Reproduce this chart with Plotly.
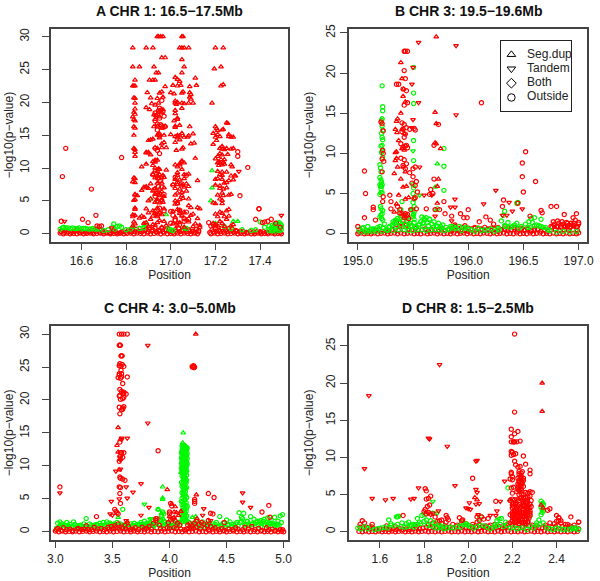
import plotly.graph_objects as go

RED = "#FF0000"
GREEN = "#00F800"

# ---------- Panel A ----------
A_up_r_x = [16.94,16.945,16.955,16.965,17.05,17.055,
16.83,16.89,16.92,17.04,17.05,17.06,17.08,17.2,17.235,
16.96,16.975,17.05,16.83,16.86,16.925,17.06,17.195,17.225,16.935,16.945,17.05,
16.84,16.905,16.92,16.93,17.02,17.03,17.04,17.11,
16.83,16.835,16.84,16.975,17.01,17.03,17.045,17.085,17.115,17.225,17.235,
16.895,16.95,16.96,17.0,17.015,17.05,17.055,17.085,17.09,
16.835,16.84,16.91,16.94,16.965,17.02,17.03,17.085,17.09,
16.84,16.915,16.93,16.945,17.02,17.025,17.05,17.06,17.08,17.1,17.185,
16.84,16.89,16.905,16.95,16.965,17.02,17.05,17.03,
16.835,16.84,16.925,16.935,16.96,17.02,17.03,
16.83,16.835,16.84,16.93,16.95,17.015,17.04,17.02,
16.835,16.84,16.925,16.94,16.96,16.975,17.02,17.085,17.2,17.205,
16.95,17.25,17.255,
16.835,16.94,16.95,16.97,17.0,17.03,17.05,17.08,17.1,17.19,17.21,17.23,17.26,
17.02,17.03,17.04,17.06,17.075,17.2,17.21,17.22,17.235,17.26,17.27,17.28,
16.9,16.91,16.92,16.96,16.97,17.02,17.04,17.09,17.105,17.19,17.205,17.23,17.25,
16.835,16.84,16.89,16.9,16.93,16.94,16.96,16.98,17.025,17.05,17.055,17.22,17.23,17.24,17.27,17.28,
16.84,16.89,16.9,16.91,16.93,17.05,17.21,17.22,17.23,17.24,17.255,
16.84,16.92,16.93,16.94,17.04,17.05,17.11,17.2,17.21,17.215,17.225,17.235,
16.87,16.92,16.93,16.945,17.02,17.03,17.04,17.06,17.215,17.22,17.23,17.24,17.27,
16.89,16.93,16.94,16.95,16.98,17.03,17.05,17.21,17.23,17.25,17.275,
16.92,16.94,16.95,16.965,17.03,17.06,17.08,17.22,17.23,17.27,17.285,17.29,
16.835,16.84,16.93,16.945,16.96,16.97,17.02,17.04,17.06,17.12,17.2,17.21,17.23,17.26,17.28,
16.83,16.84,16.89,16.91,16.94,16.96,17.01,17.03,17.05,17.07,17.2,17.22,17.24,17.25,
16.88,16.89,16.9,16.93,16.95,16.97,17.02,17.04,17.06,17.08,17.22,17.235,17.25,
16.84,16.87,16.92,16.94,16.96,17.03,17.05,17.07,17.23,
16.84,16.85,16.93,16.95,16.97,17.02,17.05,17.08,17.21,17.235,17.26,17.27,
16.835,16.84,16.91,16.94,16.96,17.02,17.04,17.055,17.19,17.22,17.23,
16.84,16.9,16.93,16.95,16.965,17.02,17.03,17.08,17.2,17.23,
16.84,16.89,16.92,16.94,16.97,17.03,17.04,17.09,17.12,17.13,17.22,17.26,
16.83,16.84,16.87,16.9,16.93,16.95,17.01,17.04,17.06,17.1,17.2,17.23,17.25,
16.83,16.86,16.88,16.92,16.94,16.96,17.02,17.05,17.09,17.21,17.24,17.26,
16.835,16.89,16.91,16.95,16.97,17.03,17.07,17.12,17.19,17.22,17.25,
16.84,16.88,16.92,16.94,16.98,17.01,17.04,17.08,17.11,17.13,17.2,17.23,17.28,
16.83,16.9,16.93,16.96,17.03,17.06,17.1,17.13,17.21,17.24,17.27]
A_up_r_y = [30,30,30,30,30,30,
28.3,28.3,28.3,28.3,28.3,28.3,28.3,28.3,28.3,
26.8,26.8,26.5,25.4,25.4,25.4,25.4,25.1,25.4,24.5,24.5,24.5,
23.4,23.4,23.4,23.4,23.8,23.5,23.2,23.7,
22.5,22.5,22.5,22.4,22.6,22.5,22.6,22.4,22.6,22.5,22.7,
21.5,21.4,21.6,21.5,21.3,21.4,21.6,21.5,21.2,
20.7,20.6,20.7,20.6,20.8,20.2,20.0,20.8,20.5,
19.9,19.8,19.6,19.9,19.9,19.7,19.9,19.8,19.9,19.9,19.9,
19.0,19.2,18.9,18.7,18.9,18.8,19.1,17.6,
18.5,18.2,18.1,18.0,18.4,18.3,17.4,
17.8,17.4,17.2,17.4,17.8,17.2,16.5,16.4,
16.3,16.1,16.3,16.4,16.1,16.4,16.2,16.3,16.3,16.0,
14.6,16.9,16.8,
15.0,15.0,15.2,15.0,15.1,15.0,15.3,14.9,15.2,15.3,15.7,15.8,15.1,
14.8,14.6,14.9,14.7,14.7,14.7,15.1,14.8,15.9,14.8,14.7,14.7,
14.2,14.3,14.4,13.7,13.9,13.9,14.3,13.7,13.8,13.6,14.2,13.3,13.0,
13.0,12.8,12.4,12.4,13.1,13.0,13.1,13.1,12.7,12.9,13.1,13.0,12.9,12.8,12.9,13.0,
12.4,12.3,12.3,12.0,11.2,11.1,11.8,12.2,12.0,11.3,12.1,
11.8,11.0,10.9,11.2,10.7,11.0,11.5,11.4,10.8,10.9,11.3,10.9,
10.2,10.4,10.0,9.9,10.5,10.2,10.5,10.8,10.4,10.7,10.5,10.6,10.5,
10.6,9.6,9.5,9.8,9.7,9.3,9.8,9.5,9.4,9.4,10.2,
9.0,8.9,9.0,8.9,8.9,9.0,9.1,9.0,8.9,8.8,8.8,8.8,
8.5,8.4,8.5,8.4,8.5,8.6,8.3,8.2,8.4,8.1,8.3,8.4,8.3,8.1,8.2,
7.9,7.8,7.2,7.6,7.7,7.7,7.5,7.5,7.4,7.6,7.4,7.3,7.7,7.8,
7.1,7.0,6.9,6.9,6.8,7.0,6.9,6.8,7.1,7.2,6.9,6.8,7.0,
6.0,6.6,6.5,6.3,6.4,6.2,6.3,6.5,6.2,
5.9,5.8,6.0,5.8,5.7,5.9,5.8,5.3,5.9,5.8,5.9,6.0,
5.1,5.2,5.3,5.2,5.1,5.0,5.2,5.4,4.7,5.3,5.1,
3.9,5.0,4.8,4.7,4.8,4.5,4.6,4.3,4.6,4.6,
3.7,3.8,3.5,3.9,3.8,3.7,3.5,4.0,4.0,3.8,3.3,3.7,
2.9,2.8,2.7,3.2,3.1,3.3,3.4,3.1,3.3,3.0,3.0,3.1,3.5,
2.6,2.4,2.5,2.7,2.6,2.9,2.5,2.7,2.8,2.6,2.6,2.7,
1.8,1.7,2.2,2.0,1.9,1.7,2.1,2.3,1.6,1.9,2.2,
1.5,1.6,1.4,1.7,1.3,1.5,1.7,1.8,1.5,1.3,1.4,1.6,1.4,
1.2,1.1,1.3,1.0,1.2,1.0,1.1,1.0,1.2,1.1,1.2]
A_dn_r_x = [16.525,17.305,17.495,16.735]
A_dn_r_y = [1.9,9.5,2.8,0.9]
A_o_r_x = [16.53,16.515,16.51,16.605,16.63,16.645,16.665,16.67,16.68,16.69,16.78,
16.93,16.935,16.94,16.945,16.95,16.955,16.96,16.965,16.97,16.975,16.93,16.94,16.95,16.96,16.965,16.94,16.945,16.95,16.955,16.93,16.94,16.95,
16.92,16.925,16.93,16.94,16.945,16.95,16.955,16.96,16.97,16.94,16.95,16.96,16.93,16.94,16.95,16.97,
17.0,17.01,17.02,17.03,17.04,17.05,17.06,17.07,17.01,17.02,17.03,17.05,17.07,17.0,17.02,17.04,17.06,17.08,
17.17,17.19,17.2,17.18,17.3,17.3,17.345,17.31,17.38,17.395,17.395,17.42,17.41,17.435,17.45,17.47,17.49]
A_o_r_y = [13,8.7,1.9,2.2,1.7,6.8,2.8,1.2,1.1,1.2,11.6,
18.4,17.9,18.1,18.7,19.1,18.8,20.3,18.6,17.9,16.3,17.2,16.7,17.6,16.4,16.2,15.8,15.1,14.9,16.6,13.0,12.7,12.2,
9.0,6.7,5.7,8.5,7.2,6.1,8.1,7.1,6.0,4.9,3.9,5.1,3.4,2.9,3.1,3.5,
3.4,2.8,2.1,4.7,3.6,2.9,2.3,3.3,7.4,8.6,7.7,7.6,8.9,1.6,2.0,1.4,1.9,2.2,
1.7,1.4,1.2,1.2,12.5,11.8,10.1,5.8,2.2,3.8,3.8,1.8,1.7,1.9,2.2,1.6,1.0]
A_up_g_x = [16.91,16.98,17.185,17.185,17.18,17.2,17.28,17.3,16.89,16.88,16.83]
A_up_g_y = [5.3,2.9,9.6,7.0,5.0,1.6,1.9,1.9,1.4,1.2,1.0]
A_o_g_x = [16.505,16.515,16.52,16.53,16.54,16.55,16.56,16.57,16.58,16.59,16.6,16.61,16.62,16.63,16.64,16.65,16.66,16.67,16.68,16.7,16.72,16.74,16.745,16.75,16.76,16.77,16.78,16.8,16.82,16.86,16.88,16.99,17.0,17.01,17.06,17.07,17.24,17.27,17.32,17.36,17.38,17.4,17.42,17.44,17.45,17.455,17.46,17.465,17.47,17.475,17.48,17.485,17.49,17.495,17.45,17.46,17.47,17.48,17.49,17.495,17.44,17.455,17.47,17.485,17.495]
A_o_g_y = [0.7,0.9,1.0,0.9,0.9,0.8,0.9,0.8,0.8,0.9,0.7,0.8,0.8,0.7,0.7,0.8,0.7,0.7,0.7,0.5,0.6,1.0,1.5,0.7,1.1,1.2,1.0,0.6,0.7,0.8,0.9,0.8,0.6,0.5,0.9,0.8,1.1,0.8,0.6,0.5,0.6,1.8,1.0,1.2,0.9,1.3,1.0,1.4,1.2,1.6,1.4,1.7,1.5,1.3,0.5,0.6,0.7,0.8,0.9,1.0,0.5,0.4,0.4,0.5,0.6]
A_base_r_x = [16.505,16.52,16.535,16.55,16.565,16.58,16.595,16.61,16.625,16.64,16.655,16.67,16.685,16.7,16.715,16.73,16.745,16.76,16.775,16.79,16.805,16.82,16.835,16.85,16.865,16.88,16.895,16.91,16.925,16.94,16.955,16.97,16.985,17.0,17.015,17.03,17.045,17.06,17.075,17.09,17.105,17.12,17.18,17.195,17.21,17.225,17.24,17.255,17.27,17.285,17.3,17.315,17.33,17.345,17.36,17.375,17.39,17.405,17.42,17.435,17.45,17.465,17.48,17.495,
16.51,16.53,16.56,16.58,16.6,16.63,16.65,16.67,16.7,16.73,16.75,16.78,16.81,16.83,16.845,16.86,16.875,16.89,16.905,16.92,16.93,16.945,16.96,16.975,16.99,17.005,17.02,17.035,17.05,17.065,17.08,17.1,17.115,17.125,17.185,17.2,17.215,17.23,17.245,17.26,17.275,17.29,17.31,17.34,17.37,17.4,17.43,17.46,17.49,
16.51,16.525,16.54,16.555,16.57,16.59,16.605,16.62,16.635,16.65,16.665,16.68,16.695,16.71,16.725,16.74,16.755,16.77,16.785,16.8,16.815,16.825,16.84,16.855,16.87,16.885,16.9,16.915,16.935,16.95,16.965,16.98,16.995,17.01,17.025,17.04,17.055,17.07,17.085,17.095,17.11,17.125,17.175,17.19,17.205,17.22,17.235,17.25,17.265,17.28,17.295,17.31,17.325,17.34,17.355,17.37,17.385,17.4,17.415,17.43,17.445,17.46,17.475,17.49]
A_base_r_y = [0.1,0,0.1,0,0.05,0,0.1,0,0.05,0.1,0,0.05,0.1,0,0.1,0,0.05,0,0.1,0,0.05,0.1,0,0.1,0.05,0,0.1,0,0.05,0.1,0,0.1,0,0.05,0,0.1,0,0.1,0.05,0,0.1,0,0,0.1,0,0.05,0.1,0,0.05,0.1,0,0.05,0,0.1,0,0,0.1,0,0.05,0,0.1,0,0.05,0,
0.4,0.5,0.3,0.6,0.4,0.3,0.5,0.7,0.3,0.2,0.4,0.3,0.5,0.6,0.7,0.8,0.5,0.7,0.9,0.6,0.8,0.5,0.9,0.6,0.7,0.4,0.6,0.8,0.5,0.7,0.6,0.4,0.7,0.5,0.6,0.8,0.5,0.9,0.6,0.8,0.7,0.5,0.4,0.2,0.3,0.3,0.2,0.3,0.2,
0.3,0.2,0.3,0.2,0.4,0.2,0.3,0.2,0.3,0.2,0.4,0.2,0.3,0.2,0.1,0.3,0.2,0.1,0.3,0.2,0.4,0.3,0.3,0.4,0.3,0.5,0.3,0.4,0.3,0.4,0.3,0.5,0.3,0.2,0.4,0.3,0.4,0.3,0.4,0.3,0.2,0.3,0.2,0.3,0.4,0.3,0.4,0.3,0.4,0.3,0.4,0.2,0.3,0.2,0.3,0.2,0.3,0.2,0.3,0.2,0.3,0.2,0.3,0.2]

# ---------- Panel B ----------
B_up_r_x = [195.71,195.39,195.4,195.415,195.43,195.41,195.39,195.7,195.71,195.7,195.71,195.75,195.36,195.35,195.34,195.355,195.4,195.42,195.37,195.35,195.34,195.4,195.42,195.35,195.34,195.36,195.33,195.41,195.43,195.73,195.72,195.72,195.39,195.41,195.44,195.37,195.46,195.43,195.35,195.33]
B_up_r_y = [24.5,21.3,19.3,18.0,16.4,17.1,15.0,15.1,13.7,11.3,11.2,10.6,14.3,14.0,13.0,12.6,13.0,12.5,11.6,10.2,10.1,10.6,10.4,9.4,9.1,8.3,7.5,8.3,7.7,6.8,5.9,3.8,6.8,5.8,5.9,4.8,4.5,4.3,3.7,2.7]
B_dn_r_x = [195.55,195.89,195.5,195.49,195.55,195.5,195.49,195.56,195.89,195.6,195.67,195.84,195.88,196.25,195.88,196.14,196.37,196.31,196.49,196.4,196.35,195.85,195.7]
B_dn_r_y = [23.8,23.4,20.7,18.6,16.3,14.2,13.2,8.3,14.8,4.8,4.8,3.3,3.3,5.4,4.3,3.7,3.9,2.3,3.1,2.8,2.3,1.6,2.2]
B_o_r_x = [195.06,195.07,195.06,195.0,195.14,195.14,195.16,195.29,195.3,195.3,195.21,195.22,195.23,195.225,195.23,195.22,195.235,195.22,195.23,195.225,
195.42,195.43,195.45,195.42,195.35,195.37,195.43,195.41,195.44,195.42,195.45,195.47,195.4,195.42,195.44,195.41,195.43,195.4,195.42,195.44,195.39,195.41,195.43,195.45,195.39,195.42,195.44,195.41,195.43,195.47,195.51,195.52,195.5,195.52,195.53,195.49,195.5,195.52,195.54,195.52,195.48,195.51,195.53,
195.66,195.69,195.73,195.69,195.65,195.68,195.78,195.79,195.85,195.93,195.96,195.99,196.0,196.12,196.1,196.16,196.2,196.23,196.32,196.31,196.45,196.49,196.49,196.52,196.5,196.61,196.56,196.66,196.67,196.75,196.8,196.87,196.95,196.98,195.62,195.7,195.74,195.38,195.4,195.42,195.44,195.36,195.42,195.46,195.38,195.45]
B_o_r_y = [7.8,5.0,2.0,0.9,3.3,3.0,1.7,4.8,4.0,3.1,13.9,13.7,12.8,10.4,10.0,9.3,9.0,7.7,4.6,4.0,
22.7,22.7,22.7,20.3,18.6,18.6,19.3,18.0,17.8,16.0,16.3,13.0,13.8,13.6,13.2,13.0,12.4,12.7,12.0,11.0,11.2,10.8,10.9,10.7,9.4,9.2,8.7,8.5,8.1,7.6,13.1,12.9,8.1,8.3,6.5,6.3,7.1,6.0,5.2,4.5,3.0,4.4,3.1,
5.5,6.8,13.6,11.0,4.9,5.0,4.0,2.5,2.2,2.5,2.0,2.0,3.0,16.3,1.5,2.1,1.7,1.2,4.2,3.4,3.8,8.8,7.1,10.2,5.2,6.5,2.2,2.9,2.6,3.4,3.4,2.4,2.0,2.5,3.1,3.0,3.0,3.0,2.5,2.3,2.2,3.4,2.0,1.9,2.6,2.4]
B_o_g_x = [195.22,195.225,195.225,195.22,195.215,195.22,195.225,195.215,195.22,195.225,195.22,195.21,195.22,195.215,195.225,195.2,195.205,195.21,195.2,195.21,195.215,195.2,195.205,195.21,195.22,195.2,195.21,195.22,195.215,195.205,195.21,195.225,195.22,195.21,195.2,195.215,195.225,
195.505,195.505,195.505,195.505,195.505,195.5,195.505,195.5,195.51,195.5,195.51,195.5,195.51,195.505,195.5,195.51,195.78,195.78,195.78,195.72,195.62,195.6,195.58,195.65,195.39,195.4,195.38,195.36,195.34,195.32,195.42,196.33,196.32,196.44,196.45,196.6,196.66,196.55,196.57]
B_o_g_y = [18.4,15.8,15.3,14.3,14.1,13.4,12.9,12.5,12.0,11.7,11.0,10.9,10.3,10.1,9.5,8.6,8.2,7.7,7.0,6.7,6.4,6.1,5.9,5.6,5.1,4.9,5.1,6.1,5.9,3.4,3.1,2.9,2.5,2.3,2.1,1.9,1.7,
20.7,17.5,16.2,11.6,9.1,6.1,5.7,5.0,4.3,3.9,3.4,3.0,2.7,2.4,2.1,1.8,10.6,8.4,5.4,3.1,2.0,1.9,2.1,1.8,3.0,4.0,2.5,1.9,1.7,1.5,2.3,2.8,2.3,3.8,3.9,2.0,1.8,1.5,1.9]
B_up_g_x = [195.72,195.71,195.7,195.5,195.45]
B_up_g_y = [8.7,2.9,5.8,2.4,2.0]
B_dn_g_x = [195.5,195.48,195.56]
B_dn_g_y = [10.3,3.0,4.8]
B_base_r_x = [195.0,195.03,195.06,195.09,195.12,195.15,195.18,195.21,195.24,195.27,195.3,195.33,195.36,195.39,195.42,195.45,195.48,195.51,195.54,195.57,195.6,195.63,195.66,195.69,195.72,195.75,195.78,195.81,195.84,195.87,195.9,195.93,195.96,195.99,196.02,196.05,196.08,196.11,196.14,196.17,196.2,196.23,196.26,196.29,196.32,196.35,196.38,196.41,196.44,196.47,196.5,196.53,196.56,196.59,196.62,196.65,196.68,196.71,196.74,196.77,196.8,196.83,196.86,196.89,196.92,196.95,196.98,197.0,
195.35,195.38,195.41,195.44,195.47,195.4,195.43,195.85,195.88,195.91,195.94,195.97,196.0,196.03,196.06,196.09,196.12,196.15,196.18,196.21,196.24,196.27,196.3,196.33,196.36,196.39,196.42,196.45,196.48,196.51,196.54,196.57,196.6,196.63,196.76,196.78,196.8,196.82,196.84,196.86,196.88,196.9,196.92,196.94,196.96,196.98,197.0,196.77,196.81,196.85,196.89,196.93,196.97,197.0,196.79,196.83,196.87,196.91,196.95,196.99]
B_base_r_y = [0,0.1,0,0.05,0,0.1,0,0.05,0.1,0,0.05,0.1,0,0.1,0,0.05,0.1,0,0.05,0,0.1,0,0.05,0.1,0,0.1,0,0.05,0,0.1,0,0.05,0.1,0,0.1,0,0.05,0,0.1,0.05,0,0.1,0,0.05,0.1,0,0.05,0,0.1,0,0.05,0,0.1,0,0.05,0.1,0,0.05,0,0.1,0,0.05,0,0.1,0,0.05,0,0.1,
1.4,0.9,1.7,1.1,1.3,2.2,2.5,0.7,0.9,0.6,0.8,1.0,0.7,0.6,0.8,0.7,0.6,0.8,0.5,0.7,0.6,0.8,0.5,0.9,0.7,0.5,0.8,0.6,0.7,0.5,0.6,0.4,0.6,0.5,0.8,1.2,0.9,1.3,0.8,1.2,0.9,1.3,0.8,1.1,1.3,0.9,1.2,1.5,1.6,1.5,1.4,1.3,1.7,1.4,0.5,0.4,0.5,0.4,0.5,0.4]
B_low_r_x = [195.01,195.04,195.07,195.1,195.13,195.16,195.19,195.22,195.25,195.28,195.31,195.34,195.37,195.4,195.43,195.46,195.49,195.52,195.55,195.58,195.61,195.64,195.67,195.7,195.73,195.76,195.79,195.82,195.85,195.88,195.91,195.94,195.97,196.0,196.03,196.06,196.09,196.12,196.15,196.18,196.21,196.24,196.27,196.3,196.33,196.36,196.39,196.42,196.45,196.48,196.51,196.54,196.57,196.6,196.63,196.66,196.69,196.72,196.75,196.78,196.81,196.84,196.87,196.9,196.93,196.96,196.99]
B_low_r_y = [0.2,0.3,0.2,0.3,0.2,0.4,0.5,0.3,0.4,0.3,0.5,0.7,0.4,0.9,1.2,0.6,0.5,0.7,0.4,0.5,0.6,0.3,0.5,0.4,0.3,0.6,0.4,0.5,0.3,1.1,0.4,0.3,0.4,0.3,0.5,0.7,0.6,0.5,0.4,0.6,0.4,0.6,0.3,0.5,0.6,0.4,0.5,0.6,0.3,0.5,0.4,0.6,0.3,0.4,0.6,0.3,0.5,0.3,0.9,1.0,0.9,1.1,0.9,1.0,0.9,1.0,0.9]
B_base_g_x = [195.01,195.04,195.07,195.09,195.12,195.15,195.18,195.2,195.23,195.26,195.28,195.31,195.33,195.35,195.37,195.39,195.41,195.43,195.45,195.47,195.49,195.51,195.53,195.55,195.57,195.59,195.61,195.63,195.65,195.67,195.69,195.71,195.73,195.75,195.77,195.8,195.83,195.86,195.89,195.92,195.96,196.0,196.06,196.12,196.18,196.24,196.28,196.34,196.38,196.42,196.48,196.54,196.58,196.62,196.68,196.74,196.8,196.86,196.92,196.98,
195.03,195.08,195.13,195.17,195.22,195.27,195.32,195.37,195.42,195.46,195.5,195.54,195.58,195.62,195.66,195.7,195.74,195.78,195.82,195.94,196.3,196.36,196.44,196.52,196.64,196.7,
195.05,195.1,195.14,195.19,195.24,195.29,195.34,195.38,195.44,195.48,195.52,195.56,195.6,195.64,195.68,195.72,195.76,195.84,195.88,195.98,196.03,196.09,196.15,196.21,196.27,196.33,196.4,196.46,196.56,196.6,196.66,196.72]
B_base_g_y = [0.5,0.7,0.4,0.9,0.6,0.5,0.8,0.9,0.7,0.5,0.8,1.1,1.3,0.9,1.5,1.1,1.6,1.2,1.5,1.3,1.0,1.4,0.8,1.1,1.5,1.3,1.7,1.4,1.8,1.2,1.5,1.0,1.3,0.9,1.1,0.8,0.6,0.9,0.7,0.9,0.7,0.6,0.3,0.4,0.4,0.3,0.5,0.9,0.8,1.1,0.9,0.8,1.4,1.1,0.8,0.4,0.2,0.3,0.2,0.3,
0.2,0.2,0.3,0.3,0.3,0.4,0.4,0.5,0.5,0.4,0.4,0.5,0.5,0.4,0.5,0.5,0.5,0.4,0.5,0.4,1.6,1.4,1.3,1.2,1.0,0.8,
0.8,0.4,0.6,0.6,1.2,0.9,1.6,1.8,0.8,1.0,0.9,1.2,0.9,1.0,0.8,0.9,0.7,0.9,0.6,0.8,0.5,0.7,0.5,0.6,0.7,1.0,0.9,0.7,0.8,1.0,0.9,0.5]

# ---------- Panel C ----------
C_o_r_x = [3.04,3.36,3.52,3.53,3.54,3.55,3.56,3.56,3.58,3.6,3.63,3.565,3.57,3.575,3.58,3.585,3.56,3.565,3.575,3.585,3.6,3.56,3.575,3.58,3.63,3.55,3.56,3.57,3.58,3.59,3.6,3.565,3.58,3.59,3.56,3.6,3.565,3.6,3.62,3.57,3.59,3.6,3.56,3.59,3.565,3.58,3.59,3.59,3.565,3.57,3.58,3.56,3.59,3.565,3.57,3.56,3.57,3.565,3.57,3.565,3.6,3.9,3.61,4.01,4.02,4.0,4.0,4.03,3.88,4.22,4.22,4.22,4.34,4.36,4.39,4.38,4.48,4.87,4.81,4.88,4.2,4.21,4.22,4.215,4.205,4.21,4.2,4.34]
C_o_r_y = [6.8,2.3,3.4,3.1,2.9,2.7,30,28.3,30,30,30,28.3,28.3,26.7,26.7,26.7,25.2,25.5,25.1,25.4,25.1,24,24.5,24,23.5,23.4,23.8,23.3,23.5,22.5,21.2,21.6,21.3,21,20.6,21,20.7,20.4,20.9,20.1,20.2,19,18.9,18.6,17.9,18.5,18.8,8,13.6,12,12,10.7,11.3,8.3,8.1,6.8,6.7,5.8,4.3,11.4,12,12.3,7.8,4.3,3.9,2.7,3,2,2,4.9,4.6,4.3,5.8,2.8,5.2,2.7,1.4,4,3,2.2,25,25.2,25,24.9,25.1,25,25.1,1.7]
C_dn_r_x = [3.04,3.49,3.53,3.58,3.58,3.57,3.63,3.57,3.57,3.62,3.56,3.63,3.68,3.75,3.81,3.81,3.82,3.75,4.3,4.29,4.64,4.64,4.71,4.36,3.62,3.48,3.5]
C_dn_r_y = [5.9,4.6,9.2,14.2,14.0,11.3,14.2,10.9,9.5,6.8,5.0,5.1,6,7.3,28.3,16.5,3.7,2.5,3.5,2.5,5.9,4.5,3.7,1.7,1.7,2.7,2.5]
C_up_r_x = [3.55,3.54,3.55,3.56,3.57,3.57,3.98,4.02,4.05,4.06,4.04,4.08,4.1,4.23,4.235,4.0,4.04,4.24,3.63]
C_up_r_y = [15.8,13.1,12.1,9.4,14,11,6.4,4.2,3.8,2.9,3.0,2.5,3.1,30,5.6,2.3,2.2,2,1.5]
C_g_c_x = [4.11,4.12,4.125,4.13,4.14,4.15,4.155,4.11,4.12,4.13,4.14,4.15,4.105,4.115,4.125,4.135,4.145,4.155,4.11,4.12,4.13,4.14,4.15,4.105,4.115,4.125,4.135,4.145,4.155,4.11,4.12,4.13,4.14,4.15,4.105,4.115,4.125,4.135,4.145,4.155,4.11,4.12,4.13,4.14,4.15,4.105,4.115,4.125,4.135,4.145,4.11,4.12,4.13,4.14,4.15,4.12,4.13,4.14,4.15,4.11,4.12,4.13,4.14,4.12,4.13,4.14,4.15,4.105,4.115,4.125,4.135,4.145,4.11,4.12,4.13,4.14,4.15,4.12,4.13,4.14,4.11,4.12,4.13,4.14,4.11,4.125,4.135,4.15,4.105,4.115,4.13,4.145,4.11,4.125,4.14,4.155,4.12,4.135,4.15,4.11,4.13,4.145,4.12,4.135,4.105,4.125,4.14,4.11,4.13,4.15,4.12,4.14,4.11,4.13,4.15,4.12,4.14,3.59,3.94,3.9,3.93,3.95]
C_g_c_y = [13,12.9,12.8,13.1,12.9,12.8,12.7,12.4,12.5,12.6,12.3,12.4,12,11.9,12.1,11.8,12.0,11.9,11.6,11.5,11.7,11.4,11.6,11.2,11.1,11.3,11.0,11.2,11.1,10.8,10.9,10.7,10.8,10.6,10.4,10.3,10.5,10.2,10.4,10.3,10.0,9.9,10.1,9.8,10.0,9.6,9.5,9.7,9.4,9.6,9.2,9.1,9.3,9.0,9.2,8.8,8.7,8.9,8.6,8.5,8.3,8.4,8.2,8.0,7.9,7.7,7.8,7.5,7.3,7.6,7.2,7.4,6.9,7.0,6.8,6.6,6.7,6.3,6.4,6.1,5.9,5.7,5.8,5.5,5.1,5.3,4.9,5.2,4.6,4.5,4.7,4.4,4.1,4.2,4.0,3.9,3.7,3.5,3.6,3.2,3.3,3.1,2.9,2.8,2.6,2.5,2.7,2.3,2.2,2.4,2,2.1,1.8,1.9,1.7,1.6,1.5,3.4,3.0,3.4,2.5,2.7]
C_up_g_x = [4.12,4.115,4.12,4.11,4.13,3.94,3.94,3.94,3.9,3.93,4.1,4.2,4.23,3.55]
C_up_g_y = [15,13.5,13.2,12.2,11.8,6.8,5.1,4.9,3.4,2.8,9,2.2,2.3,2.2]
C_dn_g_x = [3.78,3.83,3.84]
C_dn_g_y = [4.2,1.9,2.0]
C_base_g_x = [3.02,3.04,3.06,3.08,3.1,3.13,3.16,3.19,3.22,3.25,3.27,3.3,3.33,3.36,3.39,3.42,3.45,3.48,3.51,3.54,3.57,3.6,3.63,3.66,3.69,3.72,3.75,3.78,3.81,3.84,3.87,3.9,3.93,3.96,3.99,4.02,4.05,4.08,4.11,4.14,4.17,4.2,4.23,4.26,4.29,4.32,4.35,4.38,4.41,4.44,4.47,4.5,4.53,4.56,4.59,4.61,4.63,4.65,4.68,4.71,4.74,4.77,4.8,4.83,4.86,4.89,4.92,4.95,4.97,4.99,
3.03,3.07,3.12,3.18,3.24,3.29,3.35,3.41,3.47,3.53,3.59,3.65,3.71,3.77,3.83,3.89,3.95,4.01,4.07,4.19,4.25,4.31,4.37,4.43,4.49,4.55,4.6,4.66,4.72,4.78,4.84,4.9,4.96,
3.78,3.8,3.82,3.84,3.86,3.92,3.94,3.96,4.64,4.68,4.73,4.76,4.79,4.82,4.85,4.88,4.91,4.94,
3.05,3.09,3.11,3.15,3.21,3.26,3.31,3.37,3.43,3.49,3.55,3.62,3.68,3.74,3.79,3.85,3.91,3.97,4.03,4.09,4.21,4.27,4.33,4.39,4.45,4.51,4.57,4.62,4.67,4.75,4.81,4.87,4.93,4.98,
3.01,3.045,3.075,3.105,3.14,3.17,3.2,3.23,3.26,3.28,3.32,3.34,3.38,3.4,3.44,3.46,3.5,3.52,3.56,3.58,3.61,3.64,3.67,3.7,3.73,3.76,3.8,3.83,3.86,3.88,3.92,3.95,3.98,4.0,4.04,4.06,4.18,4.22,4.24,4.28,4.3,4.34,4.36,4.4,4.42,4.46,4.48,4.52,4.54,4.58,4.63,4.69,4.7,4.77,4.8,4.83,4.86,4.89,4.92,4.95]
C_base_g_y = [1.3,1.5,1.2,1.0,1.4,1.1,1.5,0.9,1.0,1.2,2.0,1.2,0.9,1.1,1.3,1.4,1.5,1.3,1.1,1.4,1.2,1.0,1.1,1.2,1.3,1.1,1.4,1.6,1.3,1.2,1.1,1.5,2.3,1.5,1.2,1.6,1.3,1.4,1.5,1.8,1.4,1.2,1.6,1.3,1.5,1.1,1.3,1.2,1.4,2.3,1.3,1.8,1.5,1.1,1.4,2.9,2.2,2.8,1.6,2.3,1.9,1.6,1.7,1.9,2.1,1.8,2.2,1.6,2.4,2.6,
0.7,0.6,0.7,0.5,0.7,0.5,0.6,0.8,0.6,0.8,0.6,0.7,0.8,0.7,0.9,0.6,0.9,0.8,0.9,0.8,0.7,0.6,0.7,0.8,0.6,0.7,0.9,1.0,1.1,1.0,1.1,0.9,1.0,
0.8,1.0,0.9,1.0,0.9,1.7,1.9,1.0,2.0,1.5,1.3,1.4,1.5,1.6,1.4,1.3,1.2,1.0,
1.0,0.9,1.0,0.8,0.9,0.8,0.9,1.0,1.0,1.1,1.0,0.9,1.0,1.1,1.2,1.1,1.2,1.1,1.0,1.1,1.0,0.9,1.0,0.9,1.0,1.0,0.9,1.4,1.1,1.2,1.3,1.3,1.2,1.4,
0.5,0.8,0.6,0.9,0.7,1.1,0.7,0.9,0.6,0.8,0.7,1.0,0.7,1.0,0.8,1.2,0.9,1.2,0.8,1.0,0.8,0.7,0.9,0.8,1.0,1.1,0.8,1.2,0.9,1.3,1.0,1.6,1.2,0.9,0.8,1.1,0.9,1.2,0.8,1.0,0.7,1.0,0.8,1.1,0.7,0.9,0.8,1.1,0.8,1.2,1.6,1.2,0.9,1.5,0.8,1.1,0.9,1.3,0.9,1.1]
C_base_r_x = [3.0,3.03,3.06,3.09,3.12,3.15,3.18,3.21,3.24,3.27,3.3,3.33,3.36,3.39,3.42,3.45,3.48,3.51,3.54,3.57,3.6,3.63,3.66,3.69,3.72,3.75,3.78,3.81,3.84,3.87,3.9,3.93,3.96,3.99,4.02,4.05,4.08,4.11,4.14,4.17,4.2,4.23,4.26,4.29,4.32,4.35,4.38,4.41,4.44,4.47,4.5,4.53,4.56,4.59,4.62,4.65,4.68,4.71,4.74,4.77,4.8,4.83,4.86,4.89,4.92,4.95,4.98,5.0,
3.02,3.07,3.13,3.2,3.27,3.34,3.4,3.46,3.49,3.52,3.55,3.58,3.61,3.64,3.7,3.76,3.82,3.86,3.88,3.89,3.91,3.99,4.01,4.03,4.05,4.07,4.09,4.16,4.18,4.2,4.22,4.24,4.26,4.28,4.3,4.33,4.36,4.4,4.46,4.52,4.58,4.66,4.72,4.78,4.85,4.9,4.97,
3.01,3.05,3.1,3.15,3.19,3.23,3.25,3.29,3.32,3.37,3.43,3.47,3.51,3.53,3.56,3.59,3.62,3.66,3.68,3.73,3.78,3.8,3.84,3.92,3.95,3.98,4.0,4.04,4.06,4.1,4.13,4.15,4.17,4.19,4.21,4.23,4.27,4.31,4.34,4.38,4.43,4.48,4.55,4.6,4.64,4.69,4.75,4.81,4.87,4.93,4.99]
C_base_r_y = [0.1,0,0.1,0,0.05,0,0.1,0,0.05,0.1,0,0.05,0.1,0,0.05,0,0.1,0,0.05,0.1,0,0.05,0,0.1,0,0.05,0,0.1,0,0.05,0,0.1,0,0.05,0.1,0,0.05,0,0.1,0,0.05,0.1,0,0.05,0,0.1,0,0.05,0,0.1,0,0.05,0.1,0,0.05,0,0.1,0,0.05,0,0.1,0,0.05,0,0.1,0,0.05,0,
0.5,0.6,0.4,0.5,0.9,0.7,0.5,0.7,0.8,0.9,1.2,0.7,1.0,0.8,0.6,0.7,0.8,1.3,1.7,2.0,1.0,1.4,1.8,2.0,1.6,1.3,1.0,1.0,1.2,0.9,1.3,1.6,1.1,1.4,1.2,0.9,0.8,0.6,0.5,0.4,0.6,0.7,0.8,0.5,0.6,0.4,0.3,
0.3,0.2,0.3,0.2,0.4,0.3,0.4,0.3,0.3,0.4,0.3,0.4,0.5,0.6,0.4,0.5,0.4,0.3,0.4,0.3,0.4,0.5,0.4,0.5,0.4,0.6,0.5,0.6,0.5,0.4,0.3,0.4,0.5,0.6,0.5,0.7,0.4,0.5,0.3,0.4,0.3,0.2,0.3,0.4,0.3,0.4,0.3,0.2,0.3,0.2,0.3]

# ---------- Panel D ----------
D_dn_r_x = [1.53,1.55,1.565,1.625,1.66,1.74,1.755,1.775,1.82,1.825,1.84,1.865,1.87,1.905,1.94,2.035,2.04,2.035,2.04,2.05,2.035,2.005,2.01,1.99,2.0,2.045,2.1,2.145,2.13,2.165,2.125,1.82,1.83]
D_dn_r_y = [8.5,18.3,4.5,4.3,4.5,4.4,4.5,5.9,12.6,12.5,2.5,2.8,22.5,11.5,6.2,9.5,9.6,5.7,5.3,3.8,3.7,3.9,3.0,3.2,3.1,2.3,2.2,4.1,2.8,6.8,2.2,2.5,2.3]
D_up_r_x = [2.335,2.335,2.03,2.04,2.33,2.34,2.19]
D_up_r_y = [20,16.2,4.6,4.3,3.6,3.2,4.3]
D_o_r_x = [1.565,1.705,1.805,1.81,1.815,1.805,1.81,1.82,1.825,1.83,1.8,1.81,1.82,1.85,1.87,1.88,1.9,1.905,1.96,1.97,1.975,2.02,2.04,2.05,2.06,2.07,2.09,2.125,
2.21,2.21,2.195,2.21,2.225,2.195,2.205,2.195,2.205,2.21,2.22,2.235,2.195,2.2,2.205,2.215,2.25,2.21,2.195,2.215,2.225,2.26,2.235,2.195,2.23,2.245,2.28,2.195,2.2,2.23,2.24,2.28,2.19,2.2,2.225,2.24,2.25,2.23,2.24,2.25,2.195,2.205,2.23,2.24,2.25,2.23,2.24,2.2,2.22,2.23,2.24,2.23,2.24,2.25,2.2,2.26,2.27,2.28,2.29,2.19,2.21,2.23,2.25,2.26,2.27,2.28,2.205,2.215,2.25,2.26,2.27,2.285,2.2,2.22,2.25,2.265,2.28,2.21,2.23,2.25,2.27,2.285,2.2,2.22,2.26,2.27,2.19,2.21,2.23,2.25,2.28,2.2,2.22,2.24,2.26,2.21,2.23,2.25,2.27,2.2,2.22,2.26,2.28,2.21,2.24,2.26,2.19,2.23,2.25,2.27,2.465,2.36,2.37,2.4,2.41,2.41,2.5,2.42,2.45,
2.2,2.205,2.215,2.22,2.225,2.235,2.245,2.255,2.265,2.275,2.2,2.21,2.22,2.23,2.24,2.25,2.26,2.27,2.28,2.205,2.215,2.225,2.235,2.245,2.255,2.265,2.275,2.21,2.22,2.23,2.24,2.25,2.26,2.27,2.225,2.235,2.245,2.255,2.265,2.235,2.225,2.24,2.23,2.245,2.235,2.24,2.23,2.225]
D_o_r_y = [1,2.2,5.8,5.5,3.4,3.0,4.4,4.5,3.6,4.8,2.7,2.4,2.6,2.0,1.5,1.6,2.2,1.9,1.9,1.5,1.6,7.2,2.0,1.5,2.0,1.7,1.8,4.1,
26.6,16.1,13.8,13.2,13.5,12.8,12.1,12.1,12.1,12.1,12.1,12.2,10.8,10.7,10.4,10.5,10.2,9.5,10.3,9.0,8.7,9.1,8.8,8.0,8.1,8.1,8.3,7.8,7.4,7.8,7.9,7.8,7.1,7.0,7.2,7.2,7.2,6.7,6.8,6.9,5.9,6.0,6.3,6.2,6.1,5.9,5.8,5.2,5.4,5.5,5.6,5.0,5.1,5.0,4.4,5.3,5.2,5.4,5.3,4.2,4.3,4.2,4.6,4.6,4.7,4.8,3.8,3.9,3.9,4.0,4.0,4.2,3.2,3.3,3.5,3.4,3.7,2.9,3.0,3.1,3.0,3.4,2.6,2.7,2.8,2.9,2.3,2.4,2.5,2.6,2.8,2.0,2.1,2.2,2.3,1.8,1.9,2.0,2.1,1.5,1.6,1.7,2.2,1.4,1.3,1.6,1.2,1.1,1.3,1.4,2.0,2.9,3.1,2.2,1.9,1.5,1.3,1.2,1.0,
3.6,3.4,3.7,3.1,3.5,3.2,3.6,3.5,3.1,3.3,2.4,2.7,2.5,2.8,2.6,2.9,2.4,2.6,2.5,1.8,1.9,1.7,2.0,1.6,2.1,1.7,1.8,1.2,1.3,1.4,1.3,1.2,1.1,1.3,4.4,4.5,4.3,4.2,4.1,6.2,6.4,6.5,6.9,6.6,7.4,7.5,5.6,5.8]
D_g_x = [1.64,1.675,1.68,1.685,1.73,1.76,1.77,1.79,1.8,1.83,1.84,2.18,2.33,2.335,2.34,2.33,2.335,2.34,2.335,2.33,2.32,2.31,2.28,1.65,1.7,1.72,1.74,1.75,1.78,1.81,1.85,1.87,1.89,1.97,1.98,1.99,2.0,2.05,2.06,2.15,2.14,2.13,2.17,2.12]
D_g_y = [1.6,2.0,2.0,2.1,1.3,1.0,1.8,2.2,2.3,1.5,2.5,5.9,4.1,3.8,3.6,3.3,3.0,2.8,2.6,2.3,1.6,1.2,2.1,1.1,1.2,1.1,0.8,1.0,1.3,1.6,1.2,0.9,0.7,1.2,1.0,1.1,0.9,1.7,2.0,1.8,1.7,1.5,1.3,0.9]
D_dn_g_x = [1.84,1.86]
D_dn_g_y = [4.1,2.5]
D_up_g_x = [2.19,2.34]
D_up_g_y = [4.3,3.9]
D_base_g_x = [1.5,1.515,1.53,1.545,1.56,1.575,1.59,1.605,1.62,1.635,1.65,1.665,1.68,1.695,1.71,1.725,1.74,1.755,1.77,1.785,1.8,1.815,1.83,1.845,1.86,1.875,1.89,1.905,1.92,1.935,1.95,1.965,1.98,1.995,2.01,2.025,2.04,2.055,2.07,2.085,2.1,2.115,2.13,2.145,2.16,2.175,2.19,2.205,2.22,2.235,2.25,2.265,2.28,2.295,2.31,2.325,2.34,2.355,2.37,2.385,2.4,2.415,2.43,2.445,2.46,2.47,2.48,2.49,2.5]
D_base_g_y = [0.5,0.4,0.7,0.4,0.6,0.3,0.4,0.5,0.6,0.5,0.9,0.8,1.0,0.7,0.6,0.7,0.9,0.6,1.0,1.1,1.4,0.9,0.8,0.6,0.5,0.6,0.4,0.5,0.6,0.5,0.7,0.6,1.0,0.9,0.7,0.5,0.7,0.9,0.8,0.6,0.4,0.6,0.8,1.0,0.7,0.9,0.5,0.6,0.4,0.5,0.6,0.3,0.8,0.5,0.9,1.0,1.2,0.5,0.4,0.3,0.5,0.4,0.3,0.4,0.3,0.5,0.4,0.5,0.3]
D_base_r_x = [1.505,1.52,1.535,1.55,1.565,1.58,1.595,1.61,1.625,1.64,1.655,1.67,1.685,1.7,1.715,1.73,1.745,1.76,1.775,1.79,1.805,1.82,1.835,1.85,1.865,1.88,1.895,1.91,1.925,1.94,1.955,1.97,1.985,2.0,2.015,2.03,2.045,2.06,2.075,2.09,2.105,2.12,2.135,2.15,2.165,2.18,2.195,2.21,2.225,2.24,2.255,2.27,2.285,2.3,2.315,2.33,2.345,2.36,2.375,2.39,2.405,2.42,2.435,2.45,2.465,2.48,2.495,
1.51,1.52,1.53,1.56,1.63,1.67,1.71,1.76,1.82,1.84,1.86,1.88,1.9,1.91,1.93,1.95,1.97,1.99,2.02,2.04,2.05,2.08,2.1,2.12,2.16,2.18,2.2,2.21,2.22,2.23,2.24,2.25,2.26,2.27,2.29,2.31,2.35,2.37,2.39,2.4,2.41,2.42,2.44,2.46,2.48,2.5,
1.51,1.525,1.54,1.555,1.57,1.585,1.6,1.615,1.63,1.645,1.66,1.675,1.69,1.705,1.72,1.735,1.75,1.765,1.78,1.795,1.81,1.825,1.84,1.855,1.87,1.885,1.9,1.915,1.93,1.945,1.96,1.975,1.99,2.005,2.02,2.035,2.05,2.065,2.08,2.095,2.11,2.125,2.14,2.155,2.17,2.185,2.2,2.215,2.23,2.245,2.26,2.275,2.29,2.305,2.32,2.335,2.35,2.365,2.38,2.395,2.41,2.425,2.44,2.455,2.47,2.485,2.5]
D_base_r_y = [0.05,0,0.1,0,0.05,0,0.1,0,0.05,0,0.1,0,0.05,0.1,0,0.05,0,0.1,0,0.05,0.1,0,0.05,0,0.1,0,0.05,0.1,0,0.05,0,0.1,0,0.05,0,0.1,0,0.05,0.1,0,0.05,0,0.1,0,0.05,0.1,0,0.05,0,0.1,0,0.05,0.1,0,0.05,0,0.1,0,0.05,0,0.1,0,0.05,0,0.1,0,0.05,
1.0,1.5,1.2,0.7,0.8,0.7,0.6,0.8,1.0,1.2,1.4,1.1,1.3,1.6,1.0,0.9,1.2,1.1,1.0,1.3,0.9,0.8,0.9,1.0,0.8,1.1,1.5,1.8,1.4,1.1,1.6,1.3,1.7,1.2,0.9,0.8,0.9,1.2,1.1,1.4,1.9,1.5,1.0,0.8,0.9,1.3,
0.6,0.5,0.6,0.4,0.5,0.3,0.4,0.3,0.4,0.3,0.4,0.3,0.4,0.3,0.4,0.3,0.4,0.5,0.4,0.5,0.6,0.5,0.7,0.6,0.8,0.5,0.7,0.6,0.5,0.7,0.5,0.7,0.6,0.5,0.7,0.6,0.5,0.7,0.6,0.7,0.5,0.6,0.7,0.5,0.7,0.6,0.9,0.8,0.9,0.7,0.9,0.8,0.6,0.5,0.6,0.5,0.6,0.5,0.6,0.7,0.8,0.7,0.6,0.5,0.6,0.5,0.4]

TITLES = ["A CHR 1: 16.5\u221217.5Mb", "B CHR 3: 19.5\u221219.6Mb", "C CHR 4: 3.0\u22125.0Mb", "D CHR 8: 1.5\u22122.5Mb"]
XTICKS = [[16.6,16.8,17.0,17.2,17.4],[195.0,195.5,196.0,196.5,197.0],[3.0,3.5,4.0,4.5,5.0],[1.6,1.8,2.0,2.2,2.4]]
YTICKS = [[0,5,10,15,20,25,30],[0,5,10,15,20,25],[0,5,10,15,20,25,30],[0,5,10,15,20,25]]
XRANGES = [[16.463,17.526],[194.92,197.08],[2.96,5.04],[1.46,2.54]]
YRANGES = [[-1.2,31.2],[-0.98,25.5],[-1.2,31.2],[-1.06,27.66]]
LEGEND_NAMES = ["Seg.dup","Tandem","Both","Outside"]
LEGEND_SYMBOLS = ["up","dn","di","o"]
W, H = 600, 581
DOMX = [[45.7/W,288/W],[350/W,593.3/W],[45.7/W,288/W],[350/W,593.3/W]]
DOMY = [[1-238.7/H,1-24/H],[1-238.7/H,1-24/H],[1-539.3/H,1-324/H],[1-539.3/H,1-324/H]]
TICK_STANDOFF = [8,0,8,0]
YTITLE_STANDOFF = [2,8,2,8]

SYM = {"up":"triangle-up-open","dn":"triangle-down-open","di":"diamond-open","o":"circle-open"}
fig = go.Figure()

def add(panel, x, y, sym, color):
    ax = "" if panel == 0 else str(panel+1)
    fig.add_trace(go.Scatter(x=x, y=y, mode="markers", xaxis="x"+ax, yaxis="y"+ax,
        showlegend=False, hoverinfo="skip",
        marker=dict(symbol=SYM[sym], size=4.2, color=color, line=dict(color=color, width=1.2))))

add(0, A_base_r_x, A_base_r_y, "o", RED)
add(0, A_o_g_x, A_o_g_y, "o", GREEN)
add(0, A_up_g_x, A_up_g_y, "up", GREEN)
add(0, A_o_r_x, A_o_r_y, "o", RED)
add(0, A_up_r_x, A_up_r_y, "up", RED)
add(0, A_dn_r_x, A_dn_r_y, "dn", RED)

add(1, B_base_r_x, B_base_r_y, "o", RED)
add(1, B_low_r_x, B_low_r_y, "o", RED)
add(1, B_base_g_x, B_base_g_y, "o", GREEN)
add(1, B_o_g_x, B_o_g_y, "o", GREEN)
add(1, B_up_g_x, B_up_g_y, "up", GREEN)
add(1, B_dn_g_x, B_dn_g_y, "dn", GREEN)
add(1, B_o_r_x, B_o_r_y, "o", RED)
add(1, B_up_r_x, B_up_r_y, "up", RED)
add(1, B_dn_r_x, B_dn_r_y, "dn", RED)

add(2, C_base_g_x, C_base_g_y, "o", GREEN)
add(2, C_g_c_x, C_g_c_y, "o", GREEN)
add(2, C_up_g_x, C_up_g_y, "up", GREEN)
add(2, C_dn_g_x, C_dn_g_y, "dn", GREEN)
add(2, C_base_r_x, C_base_r_y, "o", RED)
add(2, C_o_r_x, C_o_r_y, "o", RED)
add(2, C_dn_r_x, C_dn_r_y, "dn", RED)
add(2, C_up_r_x, C_up_r_y, "up", RED)

add(3, D_base_r_x, D_base_r_y, "o", RED)
add(3, D_base_g_x, D_base_g_y, "o", GREEN)
add(3, D_g_x, D_g_y, "o", GREEN)
add(3, D_dn_g_x, D_dn_g_y, "dn", GREEN)
add(3, D_up_g_x, D_up_g_y, "up", GREEN)
add(3, D_o_r_x, D_o_r_y, "o", RED)
add(3, D_dn_r_x, D_dn_r_y, "dn", RED)
add(3, D_up_r_x, D_up_r_y, "up", RED)

# Legend drawn on its own small axes so that rows can be as tight as in the source
FONT = "Liberation Sans"
TXT = "#222222"
AX = "#444444"
fig.add_trace(go.Scatter(x=[0]*4, y=LEGEND_NAMES, mode="markers+text", xaxis="x5", yaxis="y5",
    text=["\u00a0\u00a0\u00a0"+n for n in LEGEND_NAMES], textposition="middle right", showlegend=False, hoverinfo="skip",
    textfont=dict(family=FONT, size=12, color=TXT),
    marker=dict(symbol=[SYM[s] for s in LEGEND_SYMBOLS], size=7.5, color="black", line=dict(color="black", width=1))))

layout = dict(width=W, height=H, margin=dict(l=0,r=0,t=0,b=0), paper_bgcolor="white", plot_bgcolor="white",
    font=dict(family=FONT, size=12, color=TXT), showlegend=False, annotations=[],
    xaxis5=dict(domain=[505/W,576.7/W], range=[-10.7,61], visible=True, showticklabels=False, ticks="", showgrid=False,
                zeroline=False, showline=True, mirror=True, linecolor="#222222", linewidth=1, anchor="y5"),
    yaxis5=dict(domain=[1-107/H,1-36/H], type="category", categoryorder="array", categoryarray=LEGEND_NAMES,
                range=[3.95,-0.97], showticklabels=False, ticks="", showgrid=False, zeroline=False,
                showline=True, mirror=True, linecolor="#222222", linewidth=1, anchor="x5"))
for i in range(4):
    s = "" if i == 0 else str(i+1)
    layout["xaxis"+s] = dict(domain=DOMX[i], range=XRANGES[i], anchor="y"+s, tickmode="array", tickvals=XTICKS[i],
        ticktext=[f"{v:.1f}" for v in XTICKS[i]], ticks="outside", ticklen=7, tickwidth=1, tickcolor=AX,
        showline=True, mirror=True, linecolor=AX, linewidth=1.5, showgrid=False, zeroline=False, ticklabelstandoff=0,
        title=dict(text="Position", standoff=2, font=dict(size=12)), tickfont=dict(size=12))
    layout["yaxis"+s] = dict(domain=DOMY[i], range=YRANGES[i], anchor="x"+s, tickmode="array", tickvals=YTICKS[i],
        ticks="outside", ticklen=7, tickwidth=1, tickcolor=AX, tickangle=-90, ticklabelstandoff=TICK_STANDOFF[i],
        showline=True, mirror=True, linecolor=AX, linewidth=1.5, showgrid=False, zeroline=False,
        title=dict(text="\u2212log10(p\u2212value)", standoff=YTITLE_STANDOFF[i], font=dict(size=12)), tickfont=dict(size=12))
    layout["annotations"].append(dict(text="<b>"+TITLES[i]+"</b>", xref="paper", yref="paper",
        x=(DOMX[i][0]+DOMX[i][1])/2, y=DOMY[i][1]+18/H, xanchor="center", yanchor="middle", showarrow=False,
        font=dict(size=14, family=FONT, color="#111111")))
fig.update_layout(**layout)
fig.write_html("out.html", config=dict(displayModeBar=False), post_script="document.body.style.margin='0';")
